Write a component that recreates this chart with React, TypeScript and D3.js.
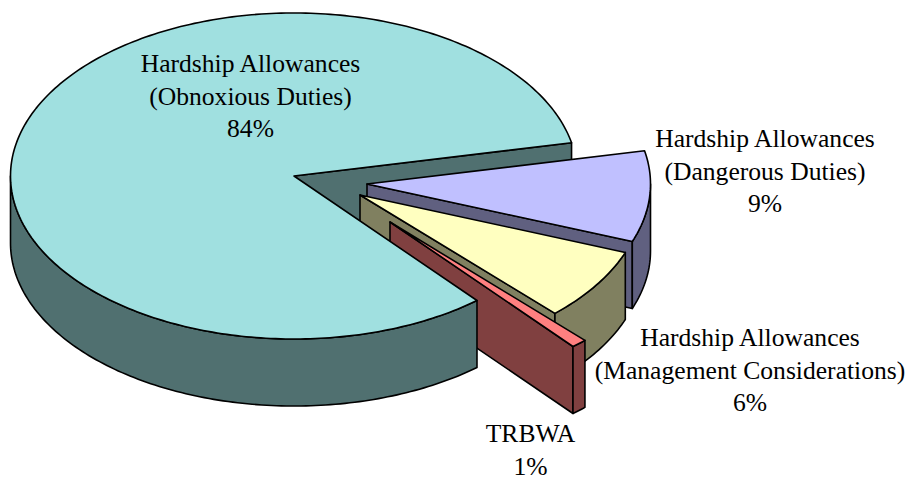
import React from 'react';
import * as d3 from 'd3';

// swept share of each slice (the printed labels are rounded)
const sliceNames = ['Obnoxious', 'Dangerous', 'Management', 'TRBWA'];
const sliceShares = [82.9, 9, 7.2, 0.9];
const labelLines = [
  ['Hardship Allowances', '(Obnoxious Duties)', '84%'],
  ['Hardship Allowances', '(Dangerous Duties)', '9%'],
  ['Hardship Allowances', '(Management Considerations)', '6%'],
  ['TRBWA', '1%'],
];

const topColors = ['#A0E0E0', '#C0C0FF', '#FFFFC0', '#FF8080'];
const wallColors = ['#507070', '#606080', '#808060', '#804040'];

const WIDTH = 909;
const HEIGHT = 478;
const CX = 294;
const CY = 176;
const RX = 283.5;
const SQUASH = 0.575;
const DEPTH = 67;
const FONT_SIZE = 25.6;
const LINE_HEIGHT = 32.5;

// pull-out of each slice from the pie centre, px
const explode = [
  [0, 0],
  [73, 8],
  [66, 19],
  [96, 46],
];
// where each label block sits (centre x, first baseline)
const labelPos = [
  [250.5, 72],
  [765, 147],
  [750, 346],
  [530.5, 442],
];

const deg = Math.PI / 180;
const START = 139.8 * deg; // d3 angle: 0 at north, clockwise

const arcs = d3
  .pie<number>()
  .sort(null)
  .startAngle(START)
  .endAngle(START + 2 * Math.PI)(sliceShares);

type Pt = [number, number];

// d3 pie angle -> screen point on the top face
const project = (a: number, r: number, i: number): Pt => [
  CX + explode[i][0] + r * Math.sin(a),
  CY + explode[i][1] - r * SQUASH * Math.cos(a),
];

const sampleArc = (a0: number, a1: number) => {
  const n = Math.max(2, Math.ceil(Math.abs(a1 - a0) / deg));
  return d3.range(n + 1).map((k) => a0 + ((a1 - a0) * k) / n);
};

const lineGen = d3.line<Pt>();
const wallGen = d3
  .area<Pt>()
  .x((d) => d[0])
  .y0((d) => d[1])
  .y1((d) => d[1] + DEPTH);

const topPath = (i: number) => {
  const { startAngle, endAngle } = arcs[i];
  const rim = sampleArc(startAngle, endAngle).map((a) => project(a, RX, i));
  return lineGen([project(0, 0, i), ...rim]) + 'Z';
};

// wall along the slice's trailing cut edge
const cutWallPath = (i: number) => {
  const a = arcs[i].endAngle;
  return wallGen([project(0, 0, i), project(a, RX, i)]) + 'Z';
};

// rim wall: only the part of the rim facing the viewer (east through south to west)
const rimWallPath = (i: number) => {
  const { startAngle, endAngle } = arcs[i];
  const pieces: string[] = [];
  [0, 2 * Math.PI].forEach((shift) => {
    const f = Math.max(startAngle, Math.PI / 2 + shift);
    const e = Math.min(endAngle, (3 * Math.PI) / 2 + shift);
    if (e > f) {
      pieces.push(wallGen(sampleArc(f, e).map((a) => project(a, RX, i))) + 'Z');
    }
  });
  return pieces.join('');
};

const stroke = { stroke: '#000', strokeWidth: 1.6, strokeLinejoin: 'round' as const };

const Slice: React.FC<{ i: number; part: 'cut' | 'front' | 'all' }> = ({ i, part }) => (
  <g>
    {part !== 'front' && <path d={cutWallPath(i)} fill={wallColors[i]} {...stroke} />}
    {part !== 'cut' && <path d={rimWallPath(i)} fill={wallColors[i]} {...stroke} />}
    {part !== 'cut' && <path d={topPath(i)} fill={topColors[i]} {...stroke} />}
  </g>
);

export default function App() {
  return (
    <svg
      width={WIDTH}
      height={HEIGHT}
      style={{ position: 'absolute', left: 0, top: 0, background: '#fff' }}
    >
      {/* big slice's cut wall goes behind the pulled-out slices */}
      <Slice i={0} part="cut" />
      {sliceNames.slice(1).map((name, idx) => (
        <Slice key={name} i={idx + 1} part="all" />
      ))}
      <Slice i={0} part="front" />

      {labelLines.map((lines, i) => (
        <text
          key={sliceNames[i]}
          textAnchor="middle"
          fontFamily="'Liberation Serif', serif"
          fontSize={FONT_SIZE}
          fill="#000"
        >
          {lines.map((line, j) => (
            <tspan key={j} x={labelPos[i][0]} y={labelPos[i][1] + j * LINE_HEIGHT}>
              {line}
            </tspan>
          ))}
        </text>
      ))}
    </svg>
  );
}
